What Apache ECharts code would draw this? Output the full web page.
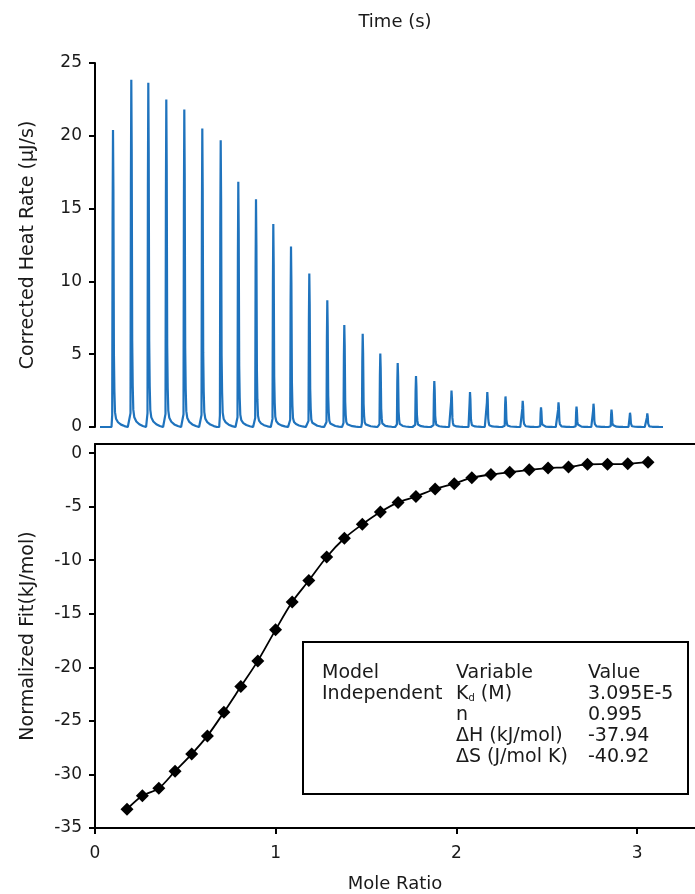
<!DOCTYPE html>
<html><head><meta charset="utf-8">
<script src="https://cdn.jsdelivr.net/npm/echarts@6/dist/echarts.min.js"></script>
<style>html,body{margin:0;padding:0;background:#fff}#c{width:695px;height:894px}</style>
</head><body><div id="c"></div>
<script>
// ---- Thermogram (top panel) ----
const injectionTimes = [180, 363, 533, 713, 893, 1073, 1257, 1433, 1610, 1783, 1960, 2143, 2323, 2493, 2677, 2853, 3027, 3210, 3393, 3565, 3750, 3923, 4105, 4277, 4460, 4635, 4815, 4985, 5165, 5350, 5523];
const peakHeights = [20.4, 23.85, 23.65, 22.5, 21.8, 20.5, 19.7, 16.85, 15.65, 13.95, 12.4, 10.55, 8.7, 7.0, 6.4, 5.05, 4.4, 3.5, 3.15, 2.5, 2.4, 2.4, 2.1, 1.8, 1.35, 1.7, 1.4, 1.6, 1.2, 0.98, 0.94];
// shape of one injection peak: [seconds from peak, fraction of peak height]
const peakProfile = [[-15, 0], [-8, 0.04], [-4, 0.7], [0, 1], [4, 0.8], [9, 0.25], [14, 0.12], [20, 0.05], [30, 0.028], [50, 0.016], [80, 0.008], [115, 0.003], [148, 0]];
const traceStart = 50, traceEnd = 5680;
const heatTicks = [0, 5, 10, 15, 20, 25];

// ---- Binding isotherm (bottom panel) ----
const moleRatio = [0.177, 0.262, 0.353, 0.443, 0.535, 0.622, 0.713, 0.807, 0.901, 0.999, 1.091, 1.183, 1.282, 1.380, 1.479, 1.579, 1.677, 1.776, 1.882, 1.988, 2.085, 2.191, 2.295, 2.403, 2.507, 2.620, 2.725, 2.836, 2.948, 3.060];
const normalizedFit = [-33.25, -32.0, -31.3, -29.7, -28.1, -26.4, -24.2, -21.8, -19.4, -16.5, -13.9, -11.9, -9.7, -7.95, -6.65, -5.5, -4.6, -4.05, -3.35, -2.85, -2.3, -2.0, -1.78, -1.56, -1.4, -1.3, -1.05, -1.03, -1.0, -0.85];
const fitTicks = [-35, -30, -25, -20, -15, -10, -5, 0];
const ratioTicks = [0, 1, 2, 3];

// ---- Results table ----
const tableModel = ['Model', 'Independent'];
const tableVariable = ['Variable', 'K{sub|d} (M)', 'n', 'ΔH (kJ/mol)', 'ΔS (J/mol K)'];
const tableValue = ['Value', '3.095E-5', '0.995', '-37.94', '-40.92'];

const trace = [[traceStart, 0]];
injectionTimes.forEach((t, i) => {
  peakProfile.forEach(p => trace.push([t + p[0], peakHeights[i] * p[1]]));
});
trace.push([traceEnd, 0]);

const isotherm = moleRatio.map((x, i) => [x, normalizedFit[i]]);

const FONT = 'DejaVu Sans';
const TXT = '#1a1a1a';
const axisLineStyle = { color: '#000', width: 2 };
const labelStyle = { fontFamily: FONT, fontSize: 17, color: TXT, margin: 13 };
const nameStyle = { fontFamily: FONT, fontSize: 18, color: TXT };
const yNameStyle = { fontFamily: FONT, fontSize: 19, color: TXT };

const chart = echarts.init(document.getElementById('c'), null, { renderer: 'canvas' });

const rowY = [673, 694, 715, 736, 757];
const graphics = [{
  type: 'rect', shape: { x: 303, y: 642, width: 385, height: 152 },
  style: { fill: '#fff', stroke: '#000', lineWidth: 2 }, z: 10
}];
const tf = '19px "' + FONT + '"';
tableModel.forEach((s, i) => graphics.push({ type: 'text', x: 322, y: rowY[i], z: 11,
  style: { text: s, font: tf, fill: TXT, verticalAlign: 'middle' } }));
tableVariable.forEach((s, i) => graphics.push({ type: 'text', x: 456, y: rowY[i], z: 11,
  style: { text: s, font: tf, fill: TXT, verticalAlign: 'middle',
    rich: { sub: { fontSize: 10, fontFamily: FONT, verticalAlign: 'bottom', padding: [9, 0, 0, 0] } } } }));
tableValue.forEach((s, i) => graphics.push({ type: 'text', x: 588, y: rowY[i], z: 11,
  style: { text: s, font: tf, fill: TXT, verticalAlign: 'middle' } }));

chart.setOption({
  animation: false,
  backgroundColor: '#fff',
  grid: [
    { left: 95, right: 0, top: 63, height: 364 },
    { left: 95, right: 0, top: 444, height: 384 }
  ],
  xAxis: [
    { gridIndex: 0, type: 'value', min: 0, max: 6000, position: 'top',
      axisLine: { show: false }, axisTick: { show: false }, axisLabel: { show: false }, splitLine: { show: false },
      name: 'Time (s)', nameLocation: 'middle', nameGap: 32, nameTextStyle: nameStyle },
    { gridIndex: 1, type: 'value', min: 0, max: 3.32, position: 'bottom',
      axisLine: { show: true, onZero: false, lineStyle: axisLineStyle },
      axisTick: { show: true, length: 6, customValues: ratioTicks, lineStyle: axisLineStyle },
      axisLabel: Object.assign({}, labelStyle, { customValues: ratioTicks, margin: 17 }),
      splitLine: { show: false },
      name: 'Mole Ratio', nameLocation: 'middle', nameGap: 47, nameTextStyle: nameStyle },
    { gridIndex: 1, type: 'value', min: 0, max: 3.32, position: 'top',
      axisLine: { show: true, onZero: false, lineStyle: axisLineStyle },
      axisTick: { show: false }, axisLabel: { show: false }, splitLine: { show: false } }
  ],
  yAxis: [
    { gridIndex: 0, type: 'value', min: 0, max: 25, interval: 5,
      axisLine: { show: true, onZero: false, lineStyle: axisLineStyle },
      axisTick: { show: true, length: 6, lineStyle: axisLineStyle },
      axisLabel: Object.assign({ customValues: heatTicks }, labelStyle),
      splitLine: { show: false },
      name: 'Corrected Heat Rate (µJ/s)', nameLocation: 'middle', nameRotate: 90, nameGap: 57, nameTextStyle: yNameStyle },
    { gridIndex: 1, type: 'value', min: -35, max: 0.85,
      axisLine: { show: true, onZero: false, lineStyle: axisLineStyle },
      axisTick: { show: true, length: 6, customValues: fitTicks, lineStyle: axisLineStyle },
      axisLabel: Object.assign({ customValues: fitTicks }, labelStyle),
      splitLine: { show: false },
      name: 'Normalized Fit(kJ/mol)', nameLocation: 'middle', nameRotate: 90, nameGap: 57, nameTextStyle: yNameStyle }
  ],
  series: [
    { type: 'line', xAxisIndex: 0, yAxisIndex: 0, data: trace, showSymbol: false, symbol: 'none',
      lineStyle: { color: '#1f73bd', width: 2.2 }, z: 3 },
    { type: 'line', xAxisIndex: 1, yAxisIndex: 1, data: isotherm, smooth: 0.3,
      symbol: 'diamond', symbolSize: 13, itemStyle: { color: '#000' },
      lineStyle: { color: '#000', width: 1.8 }, z: 3 }
  ],
  graphic: graphics
});
</script>
</body></html>
